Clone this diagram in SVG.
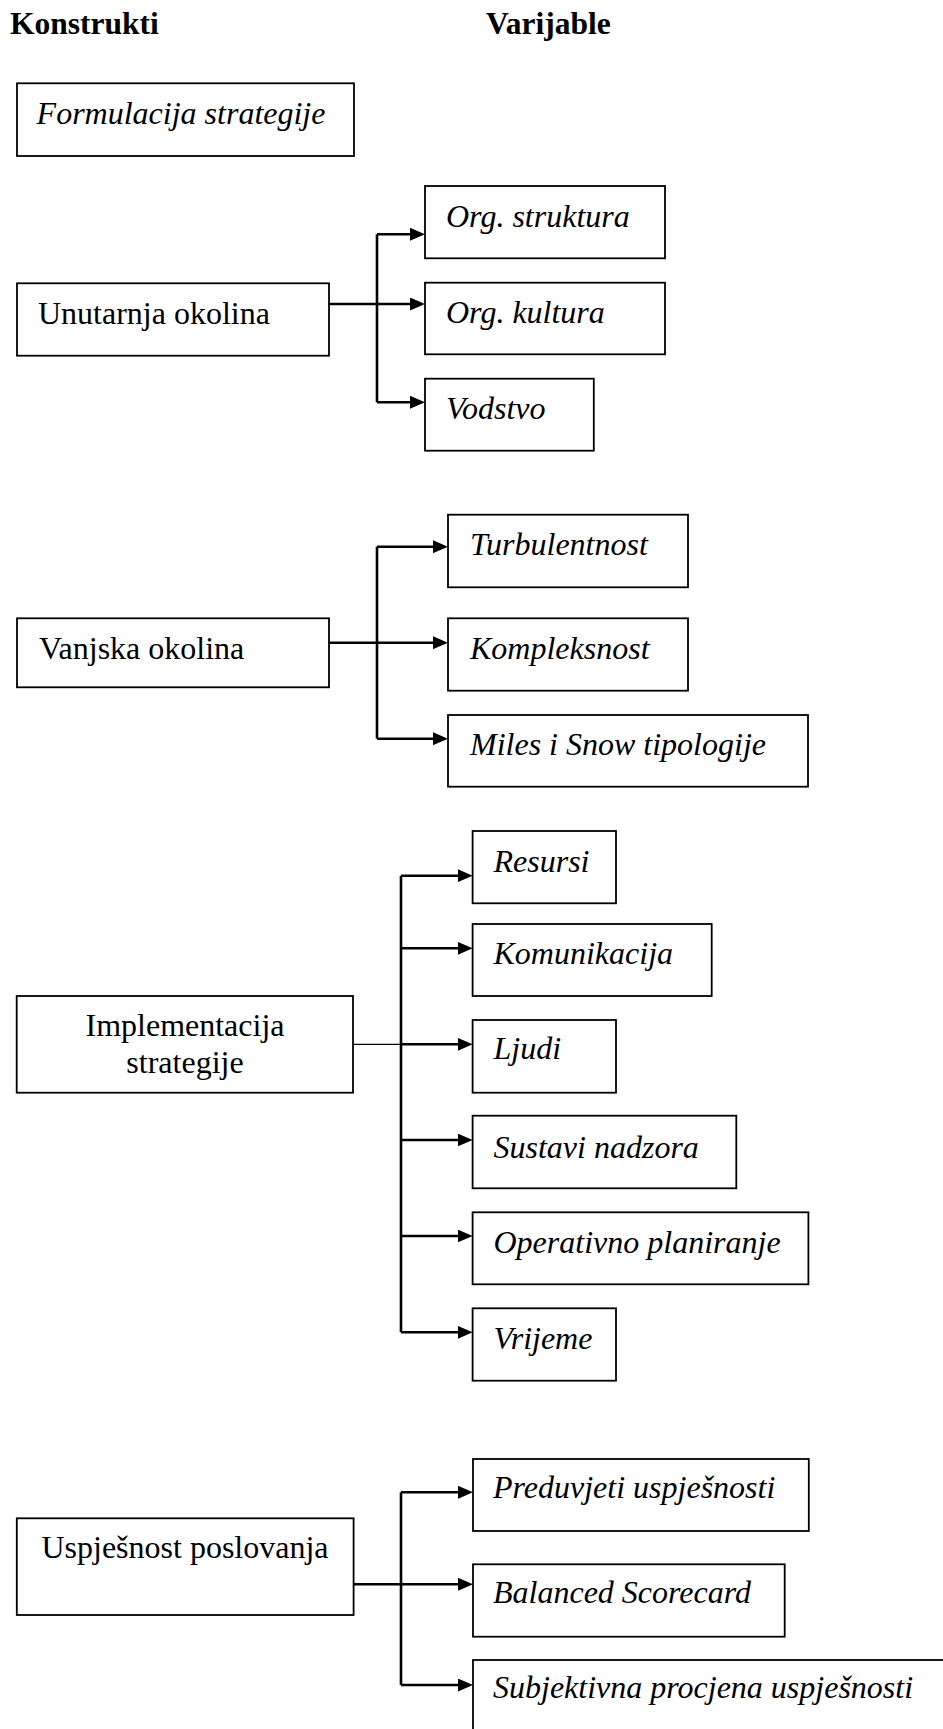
<svg xmlns="http://www.w3.org/2000/svg" width="943" height="1729" viewBox="0 0 943 1729">
<style>
.box{fill:#fff;stroke:#000;stroke-width:1.8}
.t{font-family:"Liberation Serif","Times New Roman",serif;font-size:32px;fill:#000}
.i{font-style:italic}
.h{font-weight:bold;font-size:31.5px}
.c{fill:none;stroke:#000;stroke-width:2.6}
.thin{fill:none;stroke:#000;stroke-width:1.3}
</style>
<defs>
<marker id="ah" markerUnits="userSpaceOnUse" viewBox="0 0 15 13" refX="2" refY="6.5" markerWidth="15" markerHeight="13" orient="auto">
<path d="M0,0 L15,6.5 L0,13 z" fill="#000"/>
</marker>
</defs>
<rect width="943" height="1729" fill="#fff"/>
<g id="headers">
<text class="t h" x="10" y="34">Konstrukti</text>
<text class="t h" x="486" y="34">Varijable</text>
</g>
<g id="connectors">
<!-- Unutarnja okolina -->
<path class="c" d="M329,304 H412" marker-end="url(#ah)"/>
<path class="c" d="M377,234.3 V402.3"/>
<path class="c" d="M377,234.3 H412" marker-end="url(#ah)"/>
<path class="c" d="M377,402.3 H412" marker-end="url(#ah)"/>
<!-- Vanjska okolina -->
<path class="c" d="M329,642.7 H435" marker-end="url(#ah)"/>
<path class="c" d="M377,546.7 V738.7"/>
<path class="c" d="M377,546.7 H435" marker-end="url(#ah)"/>
<path class="c" d="M377,738.7 H435" marker-end="url(#ah)"/>
<!-- Implementacija strategije -->
<path class="thin" d="M353,1044.3 H401"/>
<path class="c" d="M401,875.7 V1332.3"/>
<path class="c" d="M401,875.7 H459.6" marker-end="url(#ah)"/>
<path class="c" d="M401,948.3 H459.6" marker-end="url(#ah)"/>
<path class="c" d="M401,1044.3 H459.6" marker-end="url(#ah)"/>
<path class="c" d="M401,1140 H459.6" marker-end="url(#ah)"/>
<path class="c" d="M401,1236 H459.6" marker-end="url(#ah)"/>
<path class="c" d="M401,1332.3 H459.6" marker-end="url(#ah)"/>
<!-- Uspjesnost poslovanja -->
<path class="c" d="M353.6,1584.3 H460" marker-end="url(#ah)"/>
<path class="c" d="M401,1492.3 V1685"/>
<path class="c" d="M401,1492.3 H460" marker-end="url(#ah)"/>
<path class="c" d="M401,1685 H460" marker-end="url(#ah)"/>
</g>
<g id="n-formulacija">
<rect class="box" x="17" y="83.3" width="337" height="72.7"/>
<text class="t i" x="36.6" y="124">Formulacija strategije</text>
</g>
<g id="n-unutarnja">
<rect class="box" x="17" y="283.3" width="312" height="72.4"/>
<text class="t" x="38" y="324">Unutarnja okolina</text>
</g>
<g id="n-orgstruktura">
<rect class="box" x="425" y="186" width="240" height="72.3"/>
<text class="t i" x="446" y="226.7">Org. struktura</text>
</g>
<g id="n-orgkultura">
<rect class="box" x="425" y="282.7" width="240" height="71.6"/>
<text class="t i" x="446" y="322.7">Org. kultura</text>
</g>
<g id="n-vodstvo">
<rect class="box" x="425" y="378.7" width="168.8" height="72"/>
<text class="t i" x="446" y="419.3">Vodstvo</text>
</g>
<g id="n-vanjska">
<rect class="box" x="17" y="618.3" width="312" height="69"/>
<text class="t" x="39" y="659.3">Vanjska okolina</text>
</g>
<g id="n-turbulentnost">
<rect class="box" x="448" y="514.7" width="240" height="72.6"/>
<text class="t i" x="470" y="555">Turbulentnost</text>
</g>
<g id="n-kompleksnost">
<rect class="box" x="448" y="618.3" width="240" height="72.4"/>
<text class="t i" x="470" y="659.3">Kompleksnost</text>
</g>
<g id="n-miles">
<rect class="box" x="448" y="715" width="360" height="71.7"/>
<text class="t i" x="470" y="755">Miles i Snow tipologije</text>
</g>
<g id="n-implementacija">
<rect class="box" x="16.7" y="996" width="336.3" height="96.7"/>
<text class="t" x="185" y="1036" text-anchor="middle">Implementacija</text>
<text class="t" x="185" y="1073" text-anchor="middle">strategije</text>
</g>
<g id="n-resursi">
<rect class="box" x="472.6" y="831" width="143.4" height="72.3"/>
<text class="t i" x="493.5" y="871.7">Resursi</text>
</g>
<g id="n-komunikacija">
<rect class="box" x="472.6" y="924" width="239.1" height="72"/>
<text class="t i" x="493.5" y="964">Komunikacija</text>
</g>
<g id="n-ljudi">
<rect class="box" x="472.6" y="1020" width="143.4" height="72.7"/>
<text class="t i" x="493.5" y="1059.3">Ljudi</text>
</g>
<g id="n-sustavi">
<rect class="box" x="472.6" y="1115.7" width="263.7" height="72.6"/>
<text class="t i" x="493.5" y="1158.3">Sustavi nadzora</text>
</g>
<g id="n-operativno">
<rect class="box" x="472.6" y="1212.3" width="335.8" height="72"/>
<text class="t i" x="493.5" y="1253.3">Operativno planiranje</text>
</g>
<g id="n-vrijeme">
<rect class="box" x="472.6" y="1308.3" width="143.4" height="72.4"/>
<text class="t i" x="493.5" y="1349.3">Vrijeme</text>
</g>
<g id="n-uspjesnost">
<rect class="box" x="16.8" y="1518.3" width="336.8" height="96.7"/>
<text class="t" x="185" y="1558.3" text-anchor="middle">Uspješnost poslovanja</text>
</g>
<g id="n-preduvjeti">
<rect class="box" x="473" y="1459" width="335.8" height="72"/>
<text class="t i" x="493" y="1498.3">Preduvjeti uspješnosti</text>
</g>
<g id="n-balanced">
<rect class="box" x="473" y="1564.3" width="311.7" height="72.4"/>
<text class="t i" x="493" y="1603.3">Balanced Scorecard</text>
</g>
<g id="n-subjektivna">
<rect class="box" x="473" y="1660" width="500" height="120"/>
<text class="t i" x="493" y="1698.3">Subjektivna procjena uspješnosti</text>
</g>
</svg>
